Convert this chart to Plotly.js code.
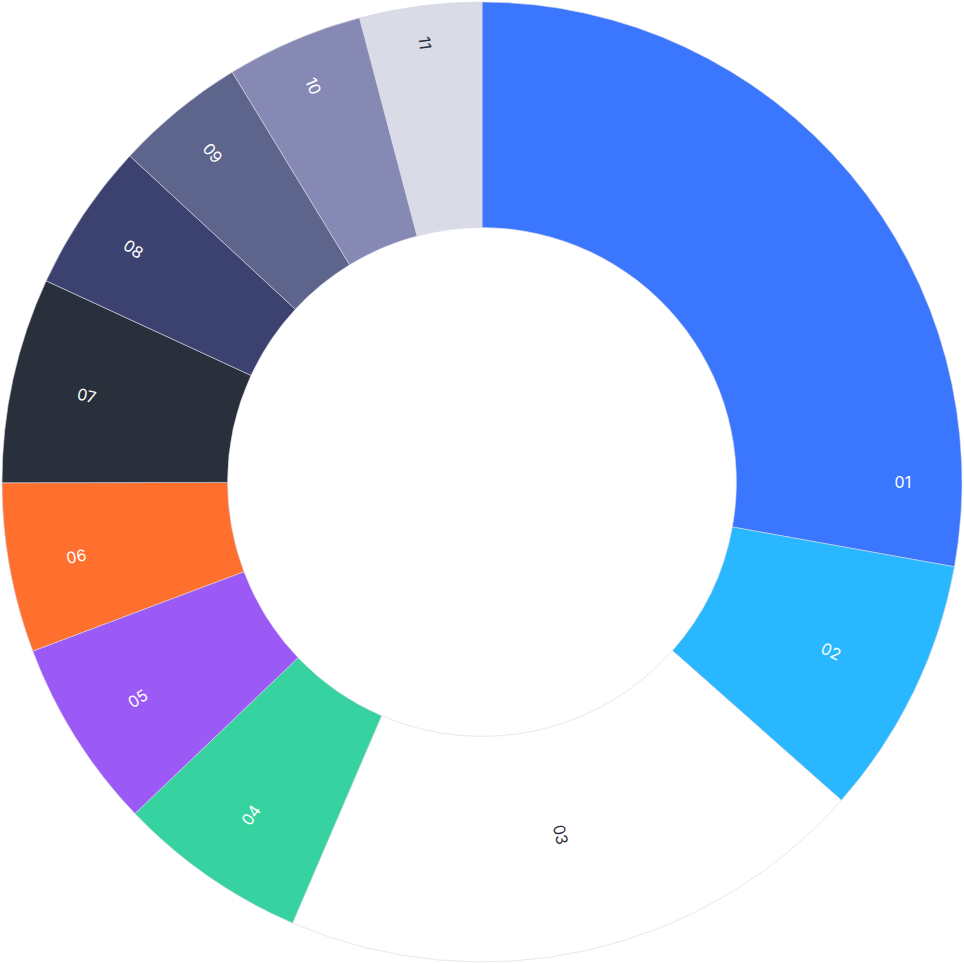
<!DOCTYPE html>
<html>
<head>
<script src="https://cdn.plot.ly/plotly-3.0.1.min.js"></script>
<style>html,body{margin:0;padding:0;background:#fff}</style>
</head>
<body>
<div id="chart" style="width:964px;height:964px"></div>
<script>
// slice names and shares
let labels = ['01','02','03','04','05','06','07','08','09','10','11'];
let values = [27.8, 8.7, 19.9, 6.4, 6.4, 5.7, 6.9, 5.0, 4.4, 4.6, 4.1];
let colors = ['#3b76ff','#29b8ff','#ffffff','#36d3a0','#9b59f5','#ff6f2e',
              '#2a2f3c','#3b4270','#5d658c','#8589b3','#d9dce6'];
let textColors = ['#ffffff','#ffffff','#2a2f3c','#ffffff','#ffffff','#ffffff',
                  '#ffffff','#ffffff','#ffffff','#ffffff','#2a2f3c'];

let dataDraw = [{
    type: 'pie',
    labels: labels,
    values: values,
    text: labels,
    textinfo: 'text',
    textposition: 'inside',
    insidetextorientation: 'radial',
    textfont: {family: 'Inter, sans-serif', size: 16, color: textColors},
    hole: 0.53,
    sort: false,
    direction: 'clockwise',
    rotation: 0,
    marker: {colors: colors, line: {color: '#d8d6e6', width: 0.6}}
}];
let layout = {
    width: 964,
    height: 964,
    showlegend: false,
    margin: {l: 2, r: 2, t: 2, b: 2},
    paper_bgcolor: '#ffffff'
};
Plotly.newPlot('chart', dataDraw, layout, {displayModeBar: false});
</script>
</body>
</html>
